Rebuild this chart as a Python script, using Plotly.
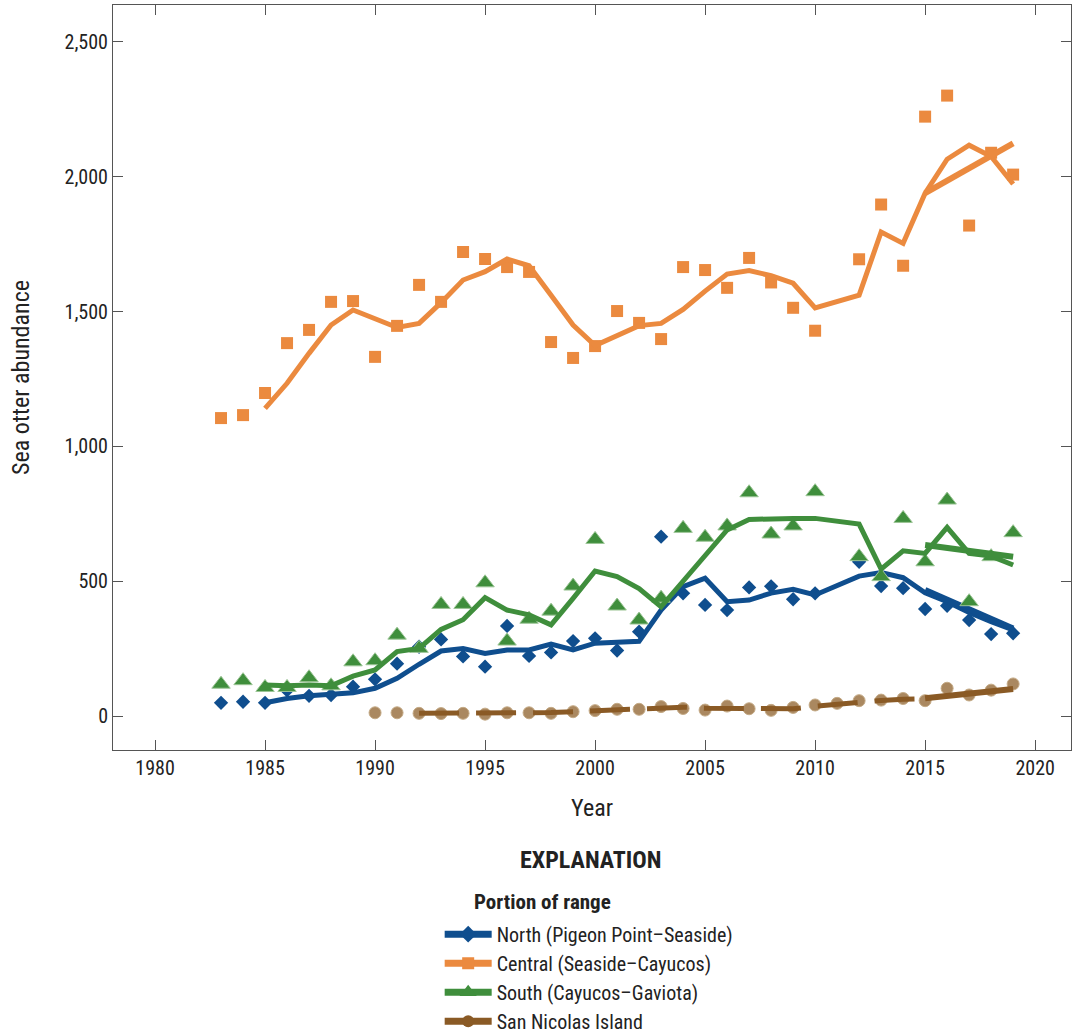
import plotly.graph_objects as go

# ---------------- data ----------------
survey_years = [1983, 1984, 1985, 1986, 1987, 1988, 1989, 1990, 1991, 1992, 1993, 1994, 1995,
                1996, 1997, 1998, 1999, 2000, 2001, 2002, 2003, 2004, 2005, 2006, 2007, 2008,
                2009, 2010, 2012, 2013, 2014, 2015, 2016, 2017, 2018, 2019]
avg_years = survey_years[2:]

north_counts = [49, 53, 49, 95, 75, 78, 109, 136, 194, 257, 284, 221, 183, 334, 223, 236, 278,
                288, 243, 313, 665, 455, 412, 393, 477, 481, 433, 455, 572, 482, 474, 397, 409,
                356, 304, 307]
north_avg = [49, 65, 75, 80, 86, 103, 140, 192, 241, 250, 232, 245, 245, 267, 245, 270, 272,
             277, 393, 480, 511, 424, 430, 456, 470, 449, 519, 532, 513, 457, 424, 384, 350, 319]

central_counts = [1105, 1116, 1198, 1383, 1432, 1536, 1539, 1332, 1447, 1599, 1536, 1721, 1695,
                  1665, 1647, 1387, 1328, 1372, 1502, 1458, 1398, 1665, 1654, 1588, 1699, 1608,
                  1514, 1429, 1694, 1897, 1670, 2223, 2301, 1819, 2089, 2008]
central_avg = [1141, 1234, 1345, 1450, 1506, 1471, 1441, 1456, 1533, 1617, 1648, 1695, 1670,
               1561, 1450, 1374, 1410, 1448, 1456, 1508, 1576, 1639, 1652, 1633, 1605, 1514,
               1561, 1795, 1753, 1939, 2065, 2117, 2075, 1973]

south_counts = [118, 131, 106, 106, 142, 112, 201, 205, 300, 251, 414, 414, 494, 278, 359, 389,
                482, 655, 408, 356, 437, 696, 663, 705, 828, 675, 705, 832, 591, 517, 733, 572,
                801, 424, 591, 680]
south_avg = [115, 112, 115, 112, 148, 171, 239, 251, 321, 357, 439, 393, 375, 338, 436, 538, 517,
             473, 405, 498, 597, 690, 729, 733, 733, 733, 712, 545, 613, 603, 700, 603, 593, 560]

sni_years = list(range(1990, 2020))
sni_counts = [12, 12, 10, 9, 10, 7, 12, 12, 10, 16, 20, 25, 25, 35, 28, 22, 37, 27, 21, 32, 41,
              47, 57, 59, 65, 57, 103, 78, 96, 119]
sni_avg_years = list(range(1992, 2016))
sni_avg = [10, 10, 10, 10, 11, 12, 13, 16, 20, 23, 27, 31, 33, 29, 28, 28, 27, 27, 36, 44, 50,
           58, 62, 64]

trend_years = [2015, 2019]
north_trend = [467, 325]
central_trend = [1939, 2124]
south_trend = [634, 591]
sni_trend = [66, 100]

series_names = ["North (Pigeon Point\u2013Seaside)", "Central (Seaside\u2013Cayucos)",
                "South (Cayucos\u2013Gaviota)", "San Nicolas Island"]

x_ticks = [1980, 1985, 1990, 1995, 2000, 2005, 2010, 2015, 2020]
y_ticks = [0, 500, 1000, 1500, 2000, 2500]

# ---------------- styles ----------------
BLUE = "#0f4e8e"
ORANGE = "#eb8a3f"
GREEN = "#3f8e3c"
BROWN = "#8a5a25"
BROWN_PT = "#aa8860"
LW = 5

fig = go.Figure()

def add_series(x, y, xa, ya, xt, yt, color, symbol, size, mline=None):
    fig.add_trace(go.Scatter(x=x, y=y, mode="markers", showlegend=False, hoverinfo="skip",
                             marker=dict(color=color, symbol=symbol, size=size,
                                         line=mline or dict(width=0))))
    fig.add_trace(go.Scatter(x=xa, y=ya, mode="lines", showlegend=False, hoverinfo="skip",
                             line=dict(color=color, width=LW)))
    fig.add_trace(go.Scatter(x=xt, y=yt, mode="lines", showlegend=False, hoverinfo="skip",
                             line=dict(color=color, width=LW + 1)))

add_series(survey_years, central_counts, avg_years, central_avg, trend_years, central_trend,
           ORANGE, "square", 12)
add_series(survey_years, north_counts, avg_years, north_avg, trend_years, north_trend,
           BLUE, "diamond", 11)
add_series(survey_years, south_counts, avg_years, south_avg, trend_years, south_trend,
           GREEN, "triangle-up", 16, dict(width=1, color="#9cc596"))

# San Nicolas
fig.add_trace(go.Scatter(x=sni_years, y=sni_counts, mode="markers", showlegend=False,
                         hoverinfo="skip",
                         marker=dict(color=BROWN_PT, symbol="circle", size=12,
                                     line=dict(width=1, color="#c4aa86"))))
fig.add_trace(go.Scatter(x=sni_avg_years, y=sni_avg, mode="lines", showlegend=False,
                         hoverinfo="skip",
                         line=dict(color=BROWN, width=LW, dash="40px,17px")))
fig.add_trace(go.Scatter(x=trend_years, y=sni_trend, mode="lines", showlegend=False,
                         hoverinfo="skip", line=dict(color=BROWN, width=LW + 1)))

# legend entries
legend_specs = [(series_names[0], BLUE, BLUE, "diamond", 13),
                (series_names[1], ORANGE, ORANGE, "square", 12),
                (series_names[2], GREEN, GREEN, "triangle-up", 15),
                (series_names[3], BROWN, BROWN, "circle", 12)]
for name, lc, mc, sym, sz in legend_specs:
    fig.add_trace(go.Scatter(x=[None], y=[None], mode="lines+markers", name=name,
                             line=dict(color=lc, width=7),
                             marker=dict(color=mc, symbol=sym, size=sz)))

COND = "Liberation Sans Narrow, Roboto Condensed, Liberation Sans, Arial"

axis_common = dict(showline=True, linecolor="#555555", linewidth=1, mirror="ticks",
                   ticks="inside", ticklen=10, tickwidth=1, tickcolor="#555555",
                   showgrid=False, zeroline=False, automargin=False,
                   tickfont=dict(family=COND, size=20, color="#222222"))

fig.update_layout(
    width=1072, height=1035,
    margin=dict(l=113, r=1, t=5, b=285, autoexpand=False),
    paper_bgcolor="white", plot_bgcolor="white",
    xaxis=dict(range=[1978.09, 2021.63], tickvals=x_ticks,
               title=dict(text="Year", font=dict(family=COND, size=24, color="#222"),
                          standoff=20),
               **axis_common),
    yaxis=dict(range=[-126, 2637], tickvals=y_ticks, tickformat=",d",
               title=dict(text="Sea otter abundance",
                          font=dict(family=COND, size=24, color="#222"), standoff=28),
               **axis_common),
    showlegend=True,
    legend=dict(x=0.341, y=-0.221, xanchor="left", yanchor="top",
                font=dict(family=COND, size=20, color="#222"),
                bgcolor="rgba(0,0,0,0)", tracegroupgap=0, itemwidth=47),
    annotations=[
        dict(text="<b>EXPLANATION</b>", xref="paper", yref="paper", x=0.498, y=-0.148,
             showarrow=False, xanchor="center", yanchor="middle",
             font=dict(family=COND, size=24, color="#222")),
        dict(text="<b>Portion of range</b>", xref="paper", yref="paper", x=0.375, y=-0.204,
             showarrow=False, xanchor="left", yanchor="middle",
             font=dict(family=COND, size=21, color="#222")),
    ],
)

fig.write_html("out.html", config={"displayModeBar": False},
               post_script="document.body.style.margin='0';")
